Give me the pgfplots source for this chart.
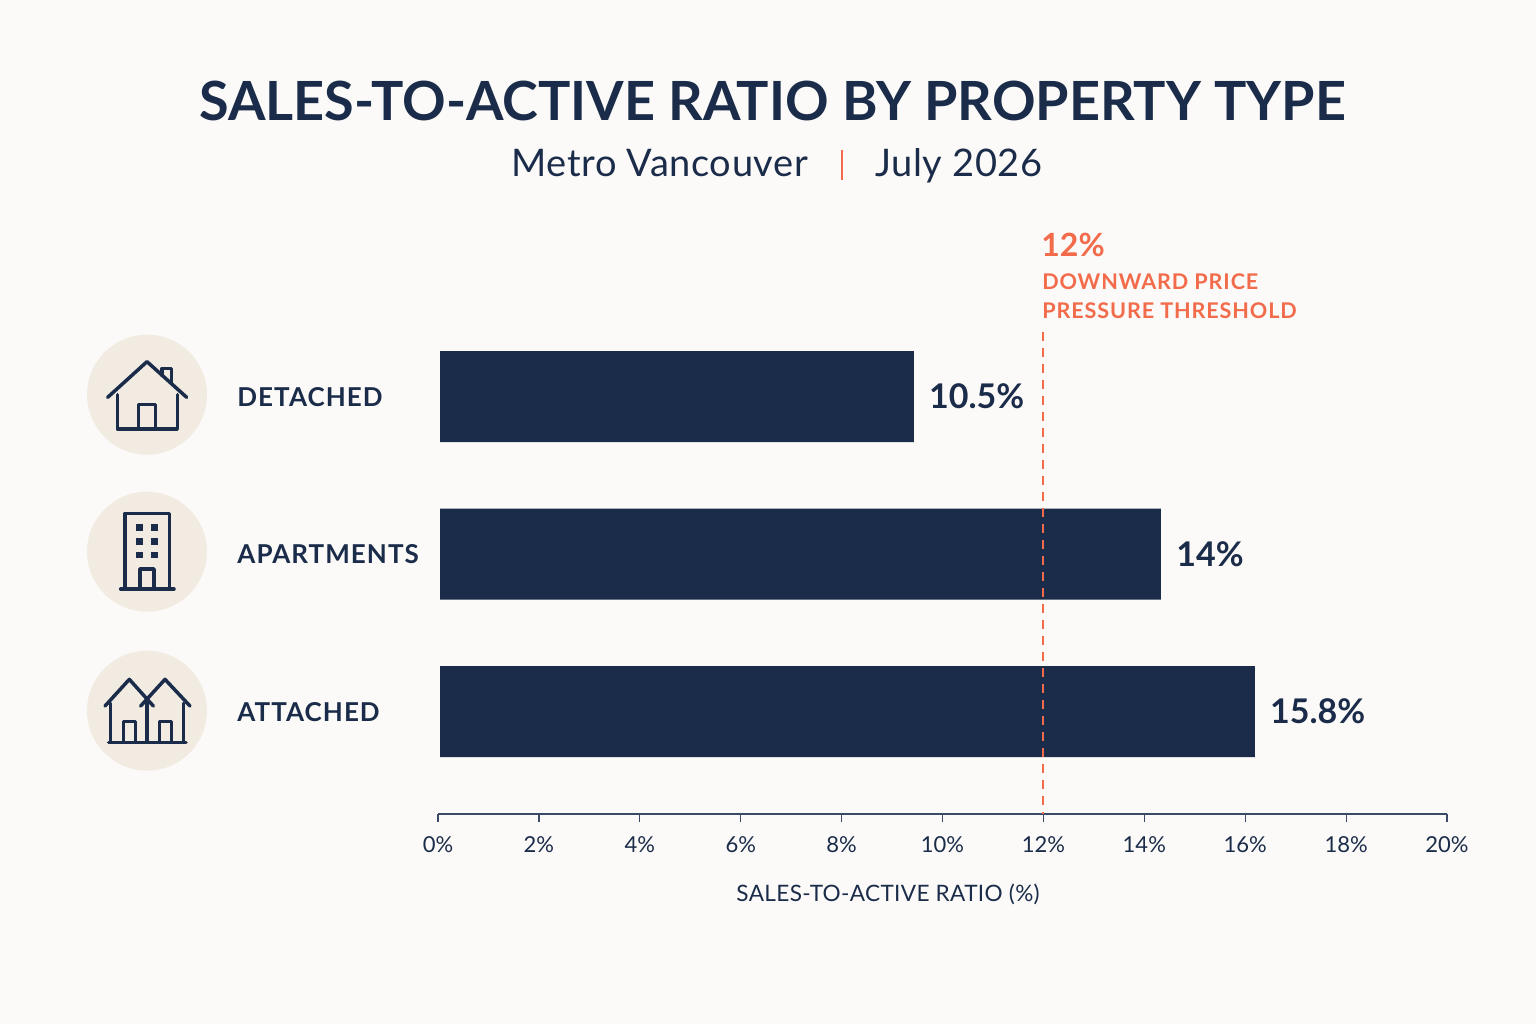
\documentclass[border=0pt]{standalone}
\usepackage{fontspec}
\usepackage{pgfplots}
\pgfplotsset{compat=1.18}
\setmainfont{Lato}
\newfontfamily\titlefont{Lato}
\newfontfamily\subfont[LetterSpace=1.5]{Lato}
\newfontfamily\catfont[LetterSpace=4]{Lato}
\definecolor{bg}{HTML}{FBFAF8}
\definecolor{navy}{HTML}{1A2C49}
\definecolor{coral}{HTML}{F26B4A}
\definecolor{disc}{HTML}{F2EBE2}
\definecolor{axln}{HTML}{3A4A66}
\begin{document}
\begin{tikzpicture}[font=\fontsize{10}{12}\selectfont]
\useasboundingbox (0,0) rectangle (768pt,-512pt);
\fill[bg] (0,0) rectangle (768pt,-512pt);
\begin{axis}[
  at={(219pt,-407pt)}, anchor=south west,
  scale only axis, width=504.5pt, height=241pt,
  xmin=0, xmax=20, ymin=-0.41, ymax=2.651, y dir=reverse,
  axis x line=bottom, axis y line=none,
  axis line style={draw=axln, line width=0.7pt, -},
  xtick={0,2,...,20},
  tick align=outside, major tick length=4pt,
  tick style={draw=axln, line width=0.6pt},
  xticklabel={\pgfmathprintnumber{\tick}\%},
  /pgf/number format/assume math mode=true,
  xticklabel style={font=\fontsize{11}{12}\selectfont, text=navy, yshift=-6pt, inner sep=1pt},
  xlabel={SALES-TO-ACTIVE RATIO (\%)},
  every axis x label/.style={at={(axis description cs:0.446,-0.166)}, anchor=center, font=\subfont\fontsize{11.3}{13}\selectfont, text=navy},
  clip=false,
]
\addplot[xbar, bar width=45.5pt, bar shift=0pt, fill=navy, draw=none,
  point meta=explicit symbolic,
  nodes near coords,
  nodes near coords align={anchor=west},
  every node near coord/.style={font=\bfseries\fontsize{17}{20}\selectfont, text=navy, inner sep=0pt, xshift=7.5pt},
] coordinates {(9.43,0)[10.5\%] (14.33,1)[14\%] (16.19,2)[15.8\%]};
\addplot[draw=coral, line width=1pt, xshift=-0.2pt, dash pattern=on 4.5pt off 3.5pt, mark=none] coordinates {(12,-0.41) (12,2.651)};
\end{axis}
% gap between axis origin and bar start
\fill[bg] (219pt,-170pt) rectangle (220pt,-385pt);

\node[anchor=base, inner sep=0, text=navy] at (386.3pt,-60pt) {\titlefont\bfseries\fontsize{27}{32}\selectfont SALES-TO-ACTIVE RATIO BY PROPERTY TYPE};
\node[anchor=base west, inner sep=0, text=navy] at (255.5pt,-88pt) {\subfont\fontsize{19}{22}\selectfont Metro Vancouver};
\node[anchor=base west, inner sep=0, text=navy] at (437.5pt,-88pt) {\subfont\fontsize{19}{22}\selectfont July 2026};
\draw[coral, line width=0.7pt] (421pt,-75pt) -- (421pt,-90pt);

\node[anchor=base west, inner sep=0, text=coral] at (520.5pt,-128pt) {\bfseries\fontsize{16}{20}\selectfont 12\%};
\node[anchor=base west, inner sep=0, text=coral] at (521pt,-144.5pt) {\catfont\bfseries\fontsize{10.8}{14}\selectfont DOWNWARD PRICE};
\node[anchor=base west, inner sep=0, text=coral] at (521pt,-159pt) {\catfont\bfseries\fontsize{10.8}{14}\selectfont PRESSURE THRESHOLD};

\node[anchor=base west, inner sep=0, text=navy] at (118.5pt,-203pt) {\catfont\bfseries\fontsize{13}{16}\selectfont DETACHED};
\node[anchor=base west, inner sep=0, text=navy] at (118.5pt,-281.5pt) {\catfont\bfseries\fontsize{13}{16}\selectfont APARTMENTS};
\node[anchor=base west, inner sep=0, text=navy] at (118.5pt,-360.5pt) {\catfont\bfseries\fontsize{13}{16}\selectfont ATTACHED};

\begin{scope}[shift={(35pt,-160pt)}, x=0.16667pt, y=-0.16667pt, navy, line width=1.75pt, line cap=round, line join=round]
\fill[disc] (231,224) circle[radius=180];
\fill[disc] (231,695) circle[radius=180];
\fill[disc] (231,1172) circle[radius=180];
% house
\draw (113,232) -- (231,125) -- (350,232);
\draw (276,166) -- (276,145) -- (305,145) -- (305,192);
\draw (142,224) -- (142,327) -- (322,327) -- (322,224);
\draw (205,327) -- (205,253) -- (256,253) -- (256,327);
% building
\draw (165,805) -- (165,580) -- (298,580) -- (298,805);
\draw (152,807) -- (312,807);
\draw (210,805) -- (210,747) -- (252,747) -- (252,805);
\foreach \yy in {623,664,705} \foreach \xx in {208,253}
  \fill (\xx-10,\yy-10) rectangle (\xx+10,\yy+10);
% attached
\draw (105,1158) -- (178,1078) -- (250,1158);
\draw (212,1158) -- (285,1078) -- (360,1158);
\draw (122,1150) -- (122,1265);
\draw (231,1145) -- (231,1265);
\draw (340,1150) -- (340,1265);
\draw (116,1267) -- (348,1267);
\draw (160,1265) -- (160,1205) -- (196,1205) -- (196,1265);
\draw (268,1265) -- (268,1205) -- (304,1205) -- (304,1265);
\end{scope}
\end{tikzpicture}
\end{document}
